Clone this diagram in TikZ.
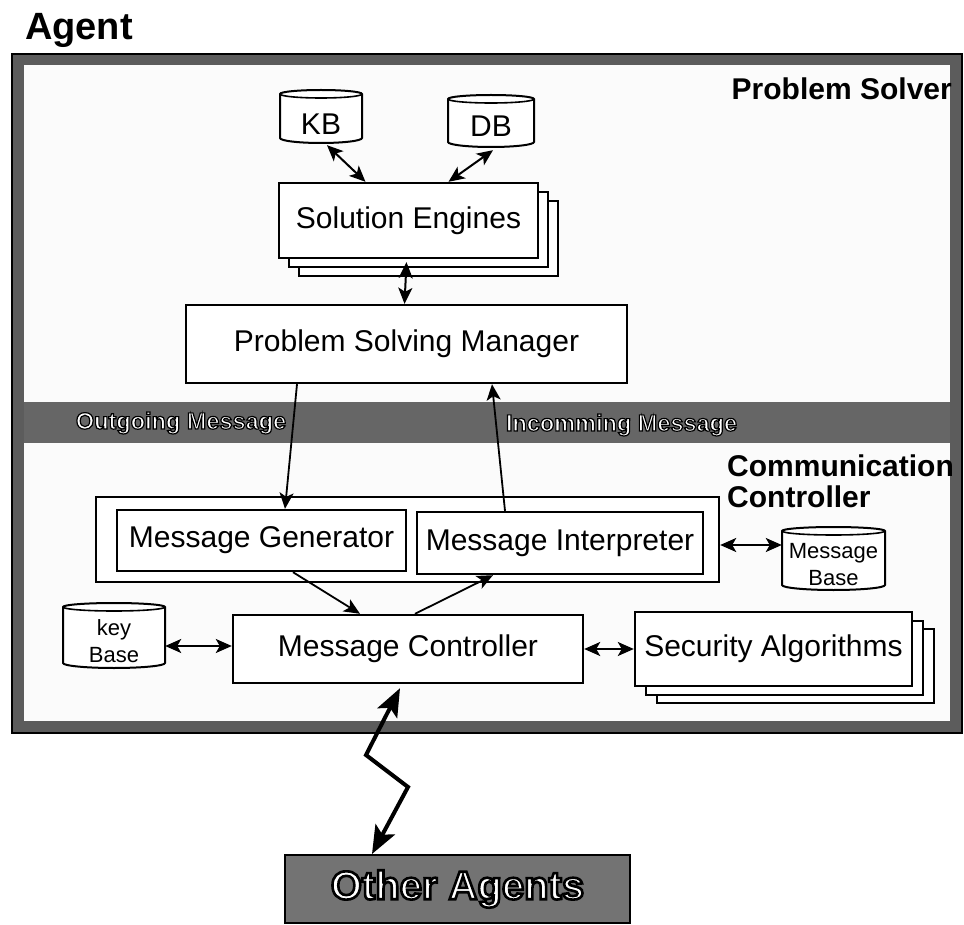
\documentclass[tikz,border=0pt]{standalone}
\usepackage{fontspec}
\setmainfont{Liberation Sans}
\usetikzlibrary{arrows.meta,shadows}
\definecolor{framegray}{gray}{0.36}
\definecolor{bandgray}{gray}{0.40}
\definecolor{bggray}{gray}{0.985}
\definecolor{oagray}{gray}{0.45}
\newcommand\boxfont{\fontsize{30}{34}\selectfont}
\newcommand\labfont{\fontsize{30}{31}\selectfont\bfseries}
\newcommand\agentfont{\fontsize{38}{40}\selectfont\bfseries}
\newcommand\cylfont{\fontsize{22}{27}\selectfont}
\newcommand\bandfont{\fontsize{23.5}{28}\selectfont\bfseries}
\newcommand\oafont{\fontsize{40}{44}\selectfont\bfseries}
% white text with a black outline (PDF text render mode 2)
\newcommand\outl[2]{\textcolor{white}{\special{pdf:literal direct 0 G #1 w 2 Tr}#2\special{pdf:literal direct 0 Tr}}}
% cylinder outline: centre x, centre y, half width, half height
\newcommand\cyl[4]{%
 \draw[line width=2pt, fill=white]
   (#1-#3,#2-#4+4) -- (#1-#3,#2+#4-5)
   arc[start angle=180, end angle=360, x radius=#3pt, y radius=5pt]
   -- (#1+#3,#2-#4+4)
   arc[start angle=0, end angle=180, x radius=#3pt, y radius=4pt] -- cycle;
 \draw[line width=1.6pt] (#1-#3,#2-#4+4)
   arc[start angle=180, end angle=360, x radius=#3pt, y radius=4pt];}
\begin{document}
\begin{tikzpicture}[x=1pt,y=-1pt,
  box/.style={draw, line width=2.4pt, fill=white, inner sep=0pt, font=\boxfont},
  cyltxt/.style={inner sep=0pt, align=center},
  darr/.style={line width=2pt, arrows={Stealth[length=16pt,width=14pt,inset=4pt]-Stealth[length=16pt,width=14pt,inset=4pt]}},
  sarr/.style={line width=1.8pt, arrows={-Stealth[length=16pt,width=14pt,inset=4pt]}},
  zarr/.style={line width=4pt, line join=miter, arrows={Stealth[length=28pt,width=22pt,inset=6pt]-Stealth[length=28pt,width=22pt,inset=6pt]}}]
\useasboundingbox (0,0) rectangle (964,925);

% title
\node[anchor=base west, inner sep=0pt, font=\agentfont] (agent) at (25,40) {Agent};

% frame, inner area and message band
\draw[line width=1.2pt, fill=framegray] (12,54) rectangle (962,733);
\fill[bggray] (24,65) rectangle (950,721);
\fill[bandgray] (24,402) rectangle (950,443);

% region labels
\node[anchor=base east, inner sep=0pt, font=\labfont] (ps) at (952,100) {Problem Solver};
\node[anchor=north west, inner sep=0pt, align=left, font=\labfont] (cc) at (727,455) {Communication\\Controller};

% data stores
\cyl{321}{116.5}{41}{26.5}
\node[cyltxt, font=\boxfont, minimum width=82pt, minimum height=38pt] (kb) at (321,124) {KB};
\cyl{491}{121}{43}{26}
\node[cyltxt, font=\boxfont, minimum width=86pt, minimum height=41pt] (db) at (491,126.5) {DB};
\cyl{833.5}{558.5}{51.5}{31.5}
\node[cyltxt, font=\cylfont, minimum width=103pt, minimum height=50pt] (mb) at (833.5,565) {Message\\Base};
\cyl{114}{635.5}{51}{32.5}
\node[cyltxt, font=\cylfont, minimum width=102pt, minimum height=54pt] (kbase) at (114,641) {key\\Base};

% boxes
\node[box, minimum width=259pt, minimum height=75pt,
  copy shadow={shadow xshift=20pt, shadow yshift=-18pt, line width=2.2pt},
  copy shadow={shadow xshift=10pt, shadow yshift=-9pt, line width=2.2pt}] (se) at (408.5,220.5) {Solution Engines};
\node[box, minimum width=441pt, minimum height=78pt] (psm) at (406.5,344) {Problem Solving Manager};
\node[box, minimum width=623pt, minimum height=85pt] (msgbox) at (407.5,539.5) {};
\node[box, minimum width=289pt, minimum height=61pt] (mg) at (261.5,540.5) {Message Generator};
\node[box, minimum width=286pt, minimum height=62pt] (mi) at (560,543) {Message Interpreter};
\node[box, minimum width=350pt, minimum height=68pt] (mc) at (408,649) {Message Controller};
\node[box, minimum width=277pt, minimum height=74pt,
  copy shadow={shadow xshift=22pt, shadow yshift=-17pt, line width=2.2pt},
  copy shadow={shadow xshift=11pt, shadow yshift=-9pt, line width=2.2pt}] (sa) at (773.5,649) {Security Algorithms};
\node[draw, line width=2pt, fill=oagray, minimum width=345pt, minimum height=68pt, inner sep=0pt, font=\oafont] (oa) at (457.5,889) {\outl{2.6}{Other Agents}};

% band labels
\node[inner sep=0pt, font=\bandfont] (outmsg) at (181,423) {\outl{1.2}{Outgoing Message}};
\node[inner sep=0pt, font=\bandfont] (inmsg) at (621.5,425) {\outl{1.2}{Incomming Message}};

% connectors
\draw[darr] ([xshift=6pt,yshift=-2pt]kb.south) -- ([xshift=-43pt]se.north);
\draw[darr] ([xshift=2pt,yshift=-3pt]db.south) -- ([xshift=40pt]se.north);
\draw[darr] ([xshift=-2pt,yshift=-3pt]se.south) -- ([xshift=-2pt]psm.north);
\draw[sarr] ([xshift=-109.5pt]psm.south) -- ([xshift=23.5pt]mg.north);
\draw[sarr] ([xshift=-55pt]mi.north) -- ([xshift=85.5pt]psm.south);
\draw[sarr] ([xshift=31.5pt]mg.south) -- ([xshift=-48pt]mc.north);
\draw[sarr] ([xshift=7pt]mc.north) -- ([xshift=-67pt]mi.south);
\draw[darr] ([yshift=-5.5pt]msgbox.east) -- ([yshift=20pt]mb.west);
\draw[darr] ([yshift=-5pt]kbase.east) -- ([yshift=3pt]mc.west);
\draw[darr] (mc.east) -- (sa.west);
\coordinate (z1) at (366,755);
\coordinate (z2) at (408,787);
\draw[zarr] ([xshift=-8pt,yshift=-4pt]mc.south) -- (z1) -- (z2) -- ([xshift=-85.5pt]oa.north);
\end{tikzpicture}
\end{document}
